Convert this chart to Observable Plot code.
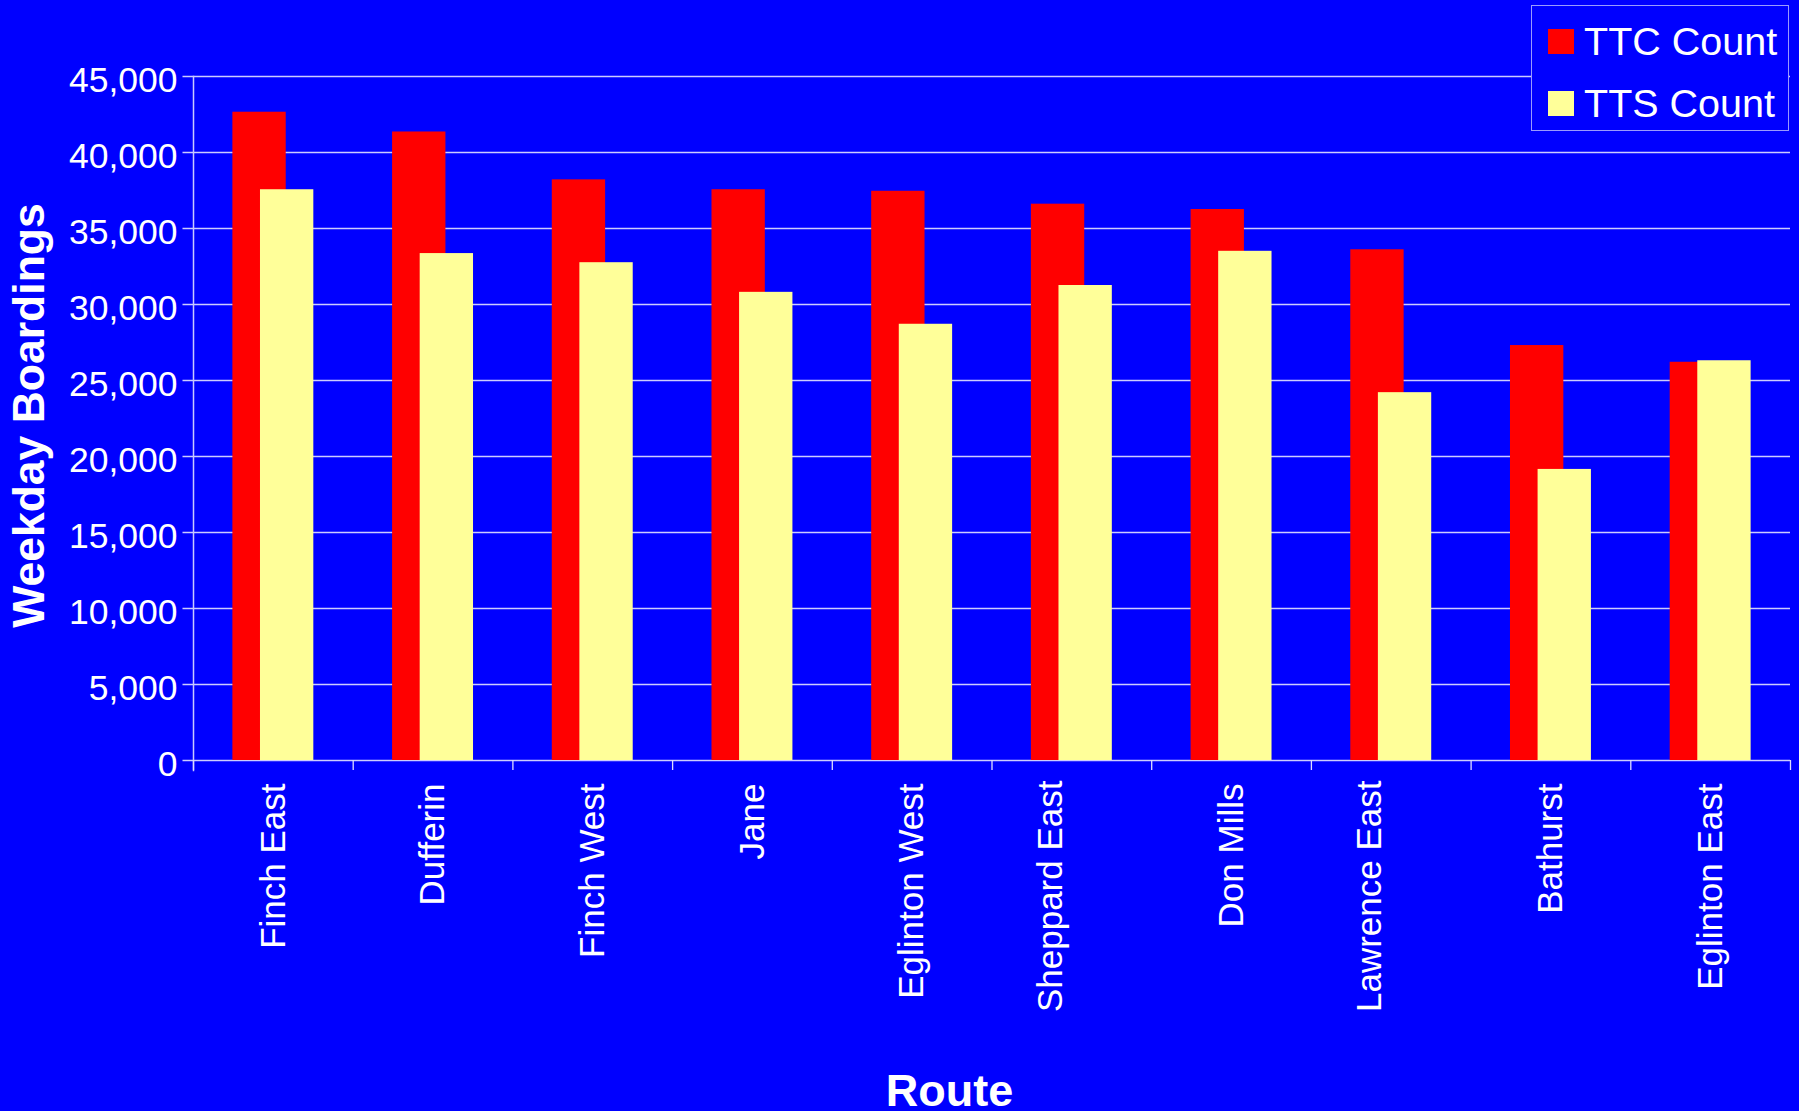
<!DOCTYPE html>
<html>
<head>
<meta charset="utf-8">
<script src="https://cdn.jsdelivr.net/npm/d3@7"></script>
<script src="https://cdn.jsdelivr.net/npm/@observablehq/plot@0.6"></script>
<style>
  html, body { margin: 0; padding: 0; background: #0000ff; }
  #wrap { position: relative; width: 1799px; height: 1111px; overflow: hidden; background: #0000ff; }
  #legend {
    position: absolute; left: 1531px; top: 5px; width: 256px; height: 124px;
    border: 1.5px solid #9a9aff; background: #0000ff; box-sizing: content-box;
    font-family: "Liberation Sans", Arial, sans-serif; color: #fff;
  }
  .item { position: absolute; left: 16px; height: 40px; display: flex; align-items: center; }
  .sw { width: 26px; height: 25px; margin-right: 10px; }
  .lbl { font-size: 39.5px; line-height: 40px; white-space: nowrap; }
</style>
</head>
<body>
<div id="wrap"></div>
<script>
// ---- data ----
const routes = ["Finch East", "Dufferin", "Finch West", "Jane", "Eglinton West", "Sheppard East", "Don Mills", "Lawrence East", "Bathurst", "Eglinton East"];
const ttcCount = [42650, 41350, 38200, 37550, 37450, 36600, 36250, 33600, 27300, 26200];
const ttsCount = [37550, 33350, 32750, 30800, 28700, 31250, 33500, 24200, 19150, 26300];
const seriesNames = ["TTC Count", "TTS Count"];
const seriesColors = ["#ff0000", "#ffff99"];
const yTicks = [0, 5000, 10000, 15000, 20000, 25000, 30000, 35000, 40000, 45000];
const yTitle = "Weekday Boardings";
const xTitle = "Route";

// ---- layout ----
const W = 1799, H = 1111;
const mL = 193, mR = 9, mT = 76, mB = 351;
const step = (W - mL - mR) / routes.length;
const barShift = 13.8;
// labels that sit left of their band centre in the original
const shiftedLabels = ["Sheppard East", "Lawrence East"];
const labelShift = -21;

const ttcRows = routes.map((r, i) => ({route: r, series: seriesNames[0], value: ttcCount[i]}));
const ttsRows = routes.map((r, i) => ({route: r, series: seriesNames[1], value: ttsCount[i]}));

const xLabelOpts = {tickSize: 0, tickPadding: 23, tickRotate: -90, fontSize: 35, label: null, fill: "#fff"};

const chart = Plot.plot({
  width: W, height: H,
  marginLeft: mL, marginRight: mR, marginTop: mT, marginBottom: mB,
  style: {background: "#0000ff", color: "#fff", fontFamily: "'Liberation Sans', Arial, sans-serif", overflow: "visible"},
  x: {domain: routes, paddingInner: 0.666, paddingOuter: 0.333, align: 0.5, round: false, axis: null},
  y: {domain: [0, 45000], axis: null},
  color: {domain: seriesNames, range: seriesColors},
  marks: [
    // gridlines + left tick stubs
    Plot.ruleY(yTicks, {stroke: "#ffffff", strokeOpacity: 0.8, strokeWidth: 1.3, insetLeft: -10.5}),
    // y axis line
    Plot.frame({anchor: "left", stroke: "#c8c8ff", strokeWidth: 1.5, insetBottom: -10}),
    // category boundary ticks
    Plot.ruleX(routes, {x: d => d, y1: 0, y2: 0, dx: -step / 2, insetBottom: -10, stroke: "#ddddff", strokeWidth: 1.3}),
    Plot.ruleX(routes.slice(-1), {x: d => d, y1: 0, y2: 0, dx: step / 2, insetBottom: -10, stroke: "#ddddff", strokeWidth: 1.3}),
    // bars
    Plot.barY(ttcRows, {x: "route", y: "value", fill: "series", dx: -barShift}),
    Plot.barY(ttsRows, {x: "route", y: "value", fill: "series", dx: barShift}),
    // y tick labels
    Plot.axisY(yTicks, {tickSize: 0, tickPadding: 16, dy: 4, fontSize: 35.5, tickFormat: d3.format(","), label: null, fill: "#fff"}),
    // x tick labels
    Plot.axisX(routes.filter(r => !shiftedLabels.includes(r)), xLabelOpts),
    Plot.axisX(shiftedLabels, {...xLabelOpts, dx: labelShift, dy: -3}),
    // axis titles
    Plot.text([yTitle], {frameAnchor: "left", rotate: -90, fontSize: 44.5, fontWeight: "bold", lineAnchor: "bottom", textAnchor: "middle", dx: 43 - mL, dy: -3, fill: "#fff"}),
    Plot.text([xTitle], {frameAnchor: "bottom", fontSize: 45, fontWeight: "bold", lineAnchor: "bottom", dx: 949 - (mL + W - mR) / 2, dy: 345, fill: "#fff"})
  ]
});

const wrap = document.getElementById("wrap");
wrap.appendChild(chart);

// legend
const legend = document.createElement("div");
legend.id = "legend";
seriesNames.forEach((name, i) => {
  const item = document.createElement("div");
  item.className = "item";
  item.style.top = (i === 0 ? 15 : 77) + "px";
  const sw = document.createElement("div");
  sw.className = "sw";
  sw.style.background = seriesColors[i];
  const lbl = document.createElement("div");
  lbl.className = "lbl";
  lbl.textContent = name;
  item.appendChild(sw);
  item.appendChild(lbl);
  legend.appendChild(item);
});
wrap.appendChild(legend);
</script>
</body>
</html>
